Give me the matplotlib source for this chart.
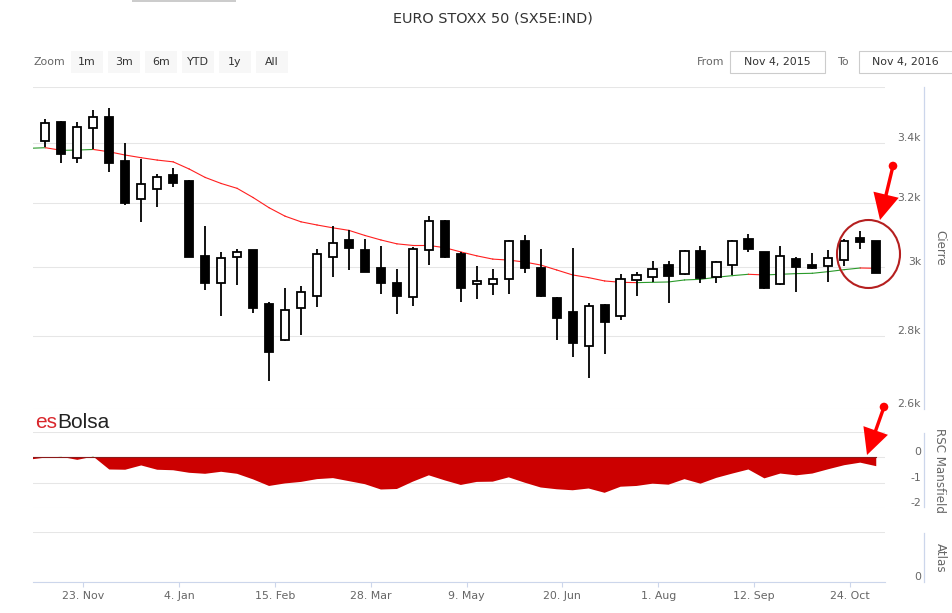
import matplotlib
matplotlib.use("Agg")
import matplotlib.pyplot as plt
import matplotlib.dates as mdates
from matplotlib.patches import Rectangle, Ellipse, Circle, FancyArrow
from matplotlib.transforms import ScaledTranslation
from matplotlib.ticker import NullLocator
import numpy as np
from datetime import datetime, timedelta

plt.rcParams["font.family"] = ["DejaVu Sans"]

# weekly candles, Friday closes (first entry = week before the view, only for MA / RSC)
week_start = datetime(2015, 10, 30, 12)
n_weeks = 54

opens = [3407, 3473, 3349, 3453, 3491, 3339, 3214, 3246, 3292, 3273,
         3034, 2953, 3032, 3052, 2891, 2788, 2880, 2914, 3030, 3085,
         3052, 2997, 2952, 2911, 3052, 3145, 3042, 2949, 2949, 2964,
         3081, 2997, 2909, 2868, 2772, 2889, 2856, 2962, 2972, 3007,
         2980, 3049, 2970, 3007, 3088, 3046, 2950, 3024, 3006, 3004,
         3022, 3089, 3080]
highs = [3485, 3476, 3475, 3516, 3524, 3400, 3347, 3295, 3315, 3275,
         3127, 3048, 3055, 3054, 2898, 2937, 2944, 3057, 3129, 3115,
         3088, 3065, 2995, 3063, 3158, 3148, 3047, 3004, 2995, 3083,
         3099, 3055, 2911, 3058, 2895, 2892, 2979, 2985, 3019, 3019,
         3052, 3065, 3019, 3083, 3102, 3048, 3065, 3032, 3044, 3052,
         3087, 3112, 3082]
lows = [3386, 3332, 3332, 3379, 3302, 3194, 3141, 3189, 3255, 3030,
        2932, 2857, 2947, 2865, 2676, 2785, 2803, 2882, 2972, 2992,
        2985, 2920, 2862, 2886, 3007, 3028, 2897, 2905, 2917, 2920,
        2984, 2911, 2788, 2741, 2683, 2750, 2846, 2913, 2957, 2894,
        2978, 2954, 2954, 2977, 3047, 2934, 2948, 2927, 2994, 2957,
        3004, 3055, 2982]
closes = [3469, 3362, 3458, 3493, 3332, 3202, 3264, 3287, 3268, 3032,
          2954, 3027, 3048, 2880, 2755, 2874, 2926, 3042, 3075, 3060,
          2987, 2954, 2913, 3057, 3143, 3030, 2937, 2960, 2966, 3081,
          2999, 2913, 2850, 2780, 2885, 2838, 2964, 2976, 2995, 2975,
          3049, 2969, 3015, 3081, 3055, 2937, 3035, 3002, 2998, 3029,
          3081, 3079, 2982]

# moving average (includes the week before the view)
moving_avg = [3383, 3385, 3376, 3377, 3379, 3371, 3360, 3351, 3343, 3337,
              3313, 3285, 3265, 3249, 3219, 3186, 3159, 3141, 3131, 3122,
              3114, 3098, 3084, 3072, 3067, 3067, 3060, 3047, 3035, 3025,
              3022, 3016, 3007, 2992, 2977, 2969, 2959, 2955, 2954, 2955,
              2956, 2962, 2964, 2970, 2975, 2979, 2977, 2979, 2981, 2982,
              2987, 2993, 2998, 2997]

# RSC Mansfield
rsc = [-0.09, -0.01, 0.02, -0.10, 0.03, -0.48, -0.49, -0.32, -0.49, -0.51,
       -0.61, -0.65, -0.57, -0.65, -0.87, -1.13, -1.03, -0.97, -0.86, -0.82,
       -0.94, -1.06, -1.27, -1.25, -0.96, -0.71, -0.91, -1.09, -0.97, -0.96,
       -0.79, -1.00, -1.19, -1.26, -1.30, -1.23, -1.40, -1.16, -1.13, -1.04,
       -1.08, -0.86, -1.04, -0.81, -0.64, -0.48, -0.83, -0.64, -0.71, -0.64,
       -0.47, -0.31, -0.21, -0.35]

price_ticks = [2600, 2800, 3000, 3200, 3400, 3600]
price_labels = ["2.6k", "2.8k", "3k", "3.2k", "3.4k", ""]
rsc_ticks = [-2, -1, 0, 1]
rsc_labels = ["-2", "-1", "0", ""]
date_ticks = [datetime(2015, 11, 23), datetime(2016, 1, 4), datetime(2016, 2, 15),
              datetime(2016, 3, 28), datetime(2016, 5, 9), datetime(2016, 6, 20),
              datetime(2016, 8, 1), datetime(2016, 9, 12), datetime(2016, 10, 24)]
date_labels = ["23. Nov", "4. Jan", "15. Feb", "28. Mar", "9. May",
               "20. Jun", "1. Aug", "12. Sep", "24. Oct"]
zoom_buttons = ["1m", "3m", "6m", "YTD", "1y", "All"]

W, H = 952, 613
GRID = "#e6e6e6"
AXIS = "#ccd6eb"
LABEL = "#666666"


def box(top, bottom):
    return [33 / W, 1 - bottom / H, 852 / W, (bottom - top) / H]


weeks = [week_start + timedelta(weeks=i) for i in range(n_weeks)]
x_all = mdates.date2num(weeks)
x = x_all[1:]
o, h, l, c = map(np.array, (opens, highs, lows, closes))
ma = np.array(moving_avg)
rs = np.array(rsc)
xlim = mdates.date2num([datetime(2015, 11, 1, 2), datetime(2016, 11, 8, 8)])

fig = plt.figure(figsize=(W / 100, H / 100), dpi=100)
fig.patch.set_facecolor("white")
ax = fig.add_axes(box(86.7, 409.1))
ax_rsc = fig.add_axes(box(432, 508))
ax_atl = fig.add_axes(box(532, 582))

up_shift = ScaledTranslation(0, 0.06, fig.dpi_scale_trans)


def style_axis(a, ticks, labels):
    a.set_xlim(*xlim)
    for s in a.spines.values():
        s.set_visible(False)
    a.set_yticks(ticks)
    a.set_yticklabels(labels)
    a.yaxis.set_minor_locator(NullLocator())
    a.yaxis.tick_right()
    a.tick_params(axis="y", length=0, pad=25.9, labelcolor=LABEL, labelsize=7.8)
    a.grid(axis="y", color=GRID, lw=0.75)
    a.set_axisbelow(True)
    for lab in a.get_yticklabels():
        lab.set_horizontalalignment("right")
        lab.set_transform(lab.get_transform() + up_shift)


# main price panel
ax.set_yscale("log")
ax.set_ylim(2600, 3600)
style_axis(ax, price_ticks, price_labels)
ax.set_xticks([])

# moving average, green while rising, red otherwise
for i in range(n_weeks - 1):
    col = "#2a9a2a" if ma[i + 1] > ma[i] else "#ff2020"
    ax.plot(x_all[i:i + 2], ma[i:i + 2], color=col, lw=0.8, zorder=1)

up = c >= o
ax.vlines(x, l, h, color="black", lw=1.3, zorder=2)
ax.bar(x, np.abs(c - o), bottom=np.minimum(o, c), width=3.6,
       color=np.where(up, "white", "black"), edgecolor="black", lw=1.3, zorder=3)

# RSC Mansfield panel
ax_rsc.set_ylim(-2, 1)
style_axis(ax_rsc, rsc_ticks, rsc_labels)
ax_rsc.set_xticks([])
ax_rsc.fill_between(x_all, rs, 0, where=rs < 0, interpolate=True, color="#cc0000", lw=0, zorder=2)
ax_rsc.fill_between(x_all, rs, 0, where=rs > 0, interpolate=True, color="#22a022", lw=0, zorder=2)
ax_rsc.plot(x_all[[0, -1]], [0, 0], color="#8b1a1a", lw=0.8, zorder=3)

# Atlas panel (empty)
ax_atl.set_ylim(0, 1)
style_axis(ax_atl, [0, 1], ["0", ""])
ax_atl.spines["bottom"].set_visible(True)
ax_atl.spines["bottom"].set_color(AXIS)
ax_atl.set_xticks(mdates.date2num(date_ticks))
ax_atl.set_xticklabels(date_labels)
ax_atl.tick_params(axis="x", length=3.6, color=AXIS, pad=3.2, labelcolor=LABEL, labelsize=7.9)

# overlay in pixel coordinates for header, axis lines and annotations
ov = fig.add_axes([0, 0, 1, 1], zorder=10)
ov.set_xlim(0, W)
ov.set_ylim(H, 0)
ov.axis("off")
ov.patch.set_alpha(0)

ov.add_patch(Rectangle((132, 0), 104, 1.5, color="#cccccc", lw=0))
ov.text(493, 18, "EURO STOXX 50 (SX5E:IND)", ha="center", va="center",
        fontsize=10.4, color="#333333")

ov.text(33, 62, "Zoom", ha="left", va="center", fontsize=7.9, color=LABEL)
for i, name in enumerate(zoom_buttons):
    bx = 71 + i * 37
    ov.add_patch(Rectangle((bx, 51), 32, 22, facecolor="#f7f7f7", lw=0))
    ov.text(bx + 16, 62, name, ha="center", va="center", fontsize=7.9, color="#333333")

ov.text(724, 62, "From", ha="right", va="center", fontsize=7.9, color=LABEL)
ov.add_patch(Rectangle((730, 51), 95, 22, facecolor="white", edgecolor="#cccccc", lw=0.8))
ov.text(777.5, 62, "Nov 4, 2015", ha="center", va="center", fontsize=7.9, color="#333333")
ov.text(850, 62, "To", ha="right", va="center", fontsize=7.9, color=LABEL)
ov.add_patch(Rectangle((859, 51), 100, 22, facecolor="white", edgecolor="#cccccc", lw=0.8))
ov.text(905, 62, "Nov 4, 2016", ha="center", va="center", fontsize=7.9, color="#333333")

# right axis lines and titles
for top, bottom, title in [(86.7, 409, "Cierre"), (433, 507, "RSC Mansfield"), (533, 582, "Atlas")]:
    ov.plot([924, 924], [top, bottom], color=AXIS, lw=0.9)
    ov.text(940, (top + bottom) / 2, title, rotation=270, ha="center", va="center",
            fontsize=8.6, color=LABEL)

# logo: "es" red, "Bolsa" dark, set right after each other
logo_es = ov.text(35, 428, "es", ha="left", va="baseline", fontsize=15,
                  color="#d9262b", family="Liberation Sans")
fig.canvas.draw()
es_right = logo_es.get_window_extent().x1
ov.text(es_right, 428, "Bolsa", ha="left", va="baseline", fontsize=15,
        color="#222222", family="Liberation Sans")

# annotations
ov.add_patch(Ellipse((868.5, 254), 63, 68, fill=False, edgecolor="#b51f1f", lw=1.5))
for (x0, y0), (x1, y1) in [((893, 166), (880, 220)), ((884, 407), (867, 455))]:
    ov.add_patch(FancyArrow(x0, y0, x1 - x0, y1 - y0, width=3.4, head_width=26,
                            head_length=26, length_includes_head=True,
                            color="#ff0000", lw=0))
    ov.add_patch(Circle((x0, y0), 4.3, color="#ff0000", lw=0))

fig.savefig("out.png", dpi=100)
